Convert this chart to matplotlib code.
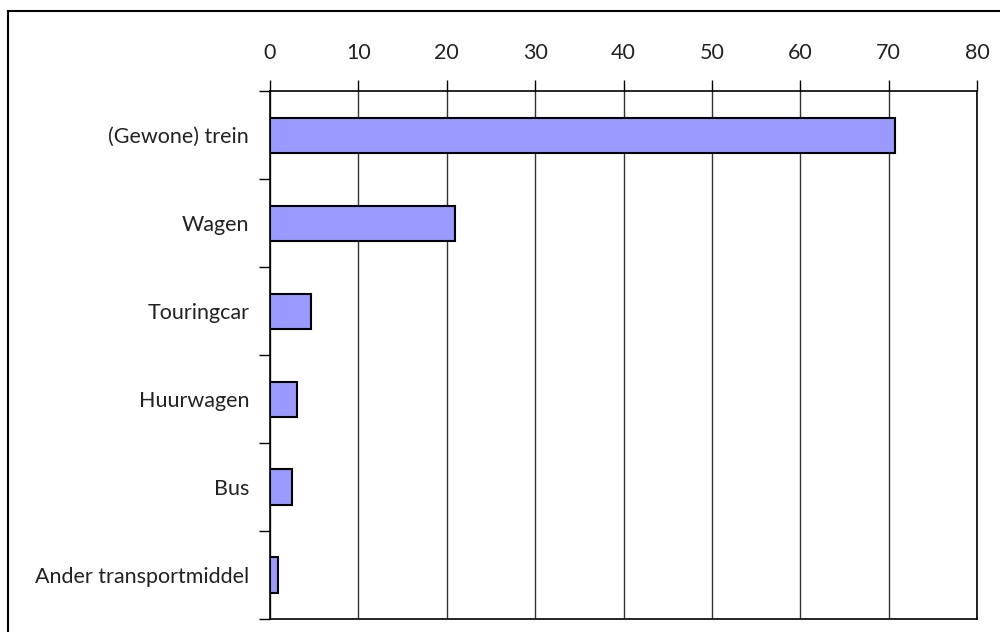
import matplotlib.pyplot as plt
from matplotlib.lines import Line2D
import numpy as np

plt.rcParams['font.family'] = ['Lato', 'DejaVu Sans']

categories = ["(Gewone) trein", "Wagen", "Touringcar", "Huurwagen", "Bus", "Ander transportmiddel"]
values = [70.7, 20.9, 4.6, 3.1, 2.5, 0.9]
xticks = [0, 10, 20, 30, 40, 50, 60, 70, 80]

fig = plt.figure(figsize=(10, 6.32), dpi=100)
ax = fig.add_axes([0.27, 0.0206, 0.707, 0.835])

y = np.arange(len(categories))
ax.barh(y, values, height=0.4, color="#9999FF", edgecolor="black", linewidth=1.5, zorder=3)

ax.set_xlim(0, 80)
ax.set_ylim(len(categories) - 0.5, -0.5)
ax.set_xticks(xticks)
ax.xaxis.tick_top()
ax.tick_params(axis="x", direction="out", length=8, width=1, pad=12, labelsize=15.5, colors="black", labelcolor="#222222")
ax.grid(axis="x", color="#333333", linewidth=1, zorder=0)

ax.set_yticks(y)
ax.set_yticklabels(categories)
ax.set_yticks(np.arange(len(categories) + 1) - 0.5, minor=True)
ax.tick_params(axis="y", which="major", length=0, pad=15, labelsize=15.5, labelcolor="#222222")
ax.tick_params(axis="y", which="minor", direction="out", length=8, width=1)

for s in ax.spines.values():
    s.set_color("black")
    s.set_linewidth(1.2)

# outer chart border (cut off on the right and bottom)
fig.add_artist(Line2D([0.008, 0.008], [0, 0.9826], color="black", linewidth=1.5, transform=fig.transFigure))
fig.add_artist(Line2D([0.008, 1.0], [0.9826, 0.9826], color="black", linewidth=1.5, transform=fig.transFigure))

fig.savefig("out.png", dpi=100)
